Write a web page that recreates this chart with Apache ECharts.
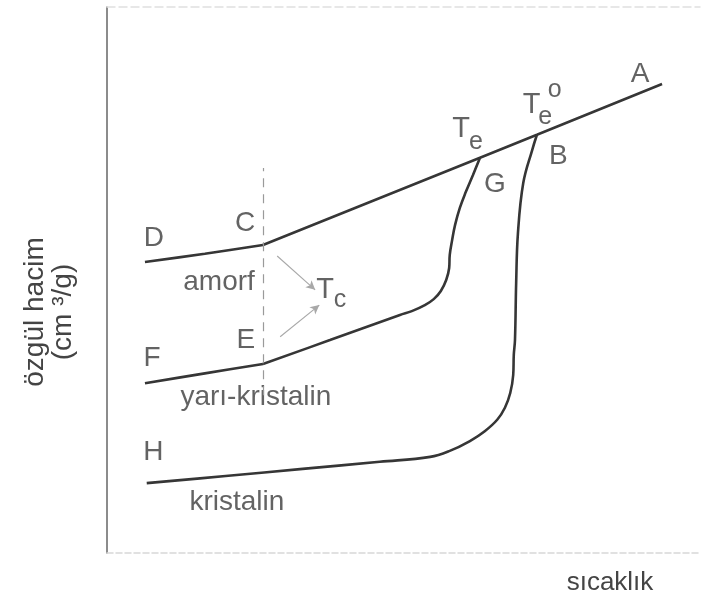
<!DOCTYPE html>
<html>
<head>
<meta charset="utf-8">
<script src="https://cdn.jsdelivr.net/npm/echarts@6/dist/echarts.min.js"></script>
<style>
  html, body { margin: 0; padding: 0; background: #fff; }
  #chart { width: 711px; height: 603px; }
</style>
</head>
<body>
<div id="chart"></div>
<script>
  // curve points (x = sıcaklık, y = özgül hacim, arbitrary units 0-100)
  const dcX = [6.4, 16.5, 26.3];
  const dcY = [53.3, 54.8, 56.4];

  const caX = [26.3, 62.9, 72.5, 93.6];
  const caY = [56.4, 72.4, 76.6, 85.9];

  const feX = [6.4, 16.5, 26.3];
  const feY = [31.1, 32.9, 34.6];

  const egX = [26.3, 37.6, 49.4, 51.4, 53.6, 55.1, 56.3, 57.2, 57.7, 57.8, 58.2, 58.7, 59.5, 60.5, 61.7, 62.9];
  const egY = [34.6, 39.0, 43.6, 44.3, 45.4, 46.5, 48.0, 50.0, 52.2, 54.6, 57.3, 60.1, 63.2, 66.1, 69.2, 72.4];

  const hbX = [6.7, 20.0, 33.0, 46.0, 54.5, 57.8, 61.2, 63.7, 65.8, 67.1, 68.0, 68.5, 68.6, 68.8, 69.0, 69.3, 70.2, 71.7, 72.5];
  const hbY = [12.8, 14.1, 15.4, 16.7, 17.6, 18.7, 20.5, 22.3, 24.4, 26.6, 29.3, 32.6, 36.3, 39.0, 49.5, 58.6, 67.8, 73.8, 76.6];

  // Tc dashed line and arrows
  const tcX = 26.3;
  const tcY = [28.9, 70.5];
  const arrowFrom = [[28.7, 54.4], [29.2, 39.6]];
  const arrowTo = [[35.1, 48.2], [35.8, 45.4]];

  // annotation labels
  const labelText = ['A', 'T', 'e', 'o', 'T', 'e', 'B', 'G', 'C', 'D', 'amorf', 'T', 'c', 'E', 'F', 'yarı-kristalin', 'H', 'kristalin'];
  const labelX = [89.9, 71.6, 73.9, 75.5, 59.7, 62.2, 76.1, 65.4, 23.3, 7.9, 18.9, 36.8, 39.3, 23.4, 7.6, 25.1, 7.8, 21.9];
  const labelY = [87.7, 82.0, 79.8, 84.8, 77.7, 75.3, 72.7, 67.6, 60.4, 57.7, 49.5, 48.2, 46.3, 39.0, 35.7, 28.6, 18.5, 9.2];
  const smallLabels = ['e', 'o', 'c'];

  const xName = 'sıcaklık';
  const yName = 'özgül hacim\n(cm ³/g)';

  const zip = (xs, ys) => xs.map((x, i) => [x, ys[i]]);

  const ink = '#363636';
  const font = 'Liberation Sans, Arial, sans-serif';

  let chart = echarts.init(document.getElementById('chart'));

  let curve = (name, xs, ys, smooth) => ({
    name: name,
    type: 'line',
    data: zip(xs, ys),
    showSymbol: false,
    smooth: smooth,
    lineStyle: { color: ink, width: 2.6 },
    silent: true
  });

  let labelData = labelText.map((t, i) => ({
    value: [labelX[i], labelY[i]],
    label: {
      show: true,
      formatter: t,
      position: 'inside',
      fontSize: smallLabels.indexOf(t) >= 0 ? 25 : (t === 'T' ? 29 : 28),
      fontFamily: font,
      color: '#3c3c3c'
    }
  }));

  let option = {
    animation: false,
    grid: { left: 107, right: 11, top: 7, bottom: 50 },
    xAxis: [
      {
        type: 'value', min: 0, max: 100,
        axisLine: { show: true, lineStyle: { color: '#d8d8d8', width: 1.5, type: [6, 3] } },
        axisTick: { show: false }, axisLabel: { show: false }, splitLine: { show: false }
      },
      {
        type: 'value', min: 0, max: 100, position: 'top',
        axisLine: { show: true, lineStyle: { color: '#e0e0e0', width: 1.5, type: [8, 4] } },
        axisTick: { show: false }, axisLabel: { show: false }, splitLine: { show: false }
      }
    ],
    yAxis: {
      type: 'value', min: 0, max: 100,
      axisLine: { show: true, lineStyle: { color: '#666', width: 1.5 } },
      axisTick: { show: false }, axisLabel: { show: false }, splitLine: { show: false }
    },
    series: [
      curve('DC', dcX, dcY, 0.3),
      curve('CA', caX, caY, false),
      curve('FE', feX, feY, 0.3),
      curve('EG', egX, egY, 0.4),
      curve('HB', hbX, hbY, 0.4),
      {
        name: 'Tc',
        type: 'line',
        data: [],
        silent: true,
        markLine: {
          silent: true,
          animation: false,
          label: { show: false },
          data: [
            [
              { coord: [tcX, tcY[0]], symbol: 'none', lineStyle: { color: '#9a9a9a', width: 1.2, type: [9, 7] } },
              { coord: [tcX, tcY[1]], symbol: 'none' }
            ],
            [
              { coord: arrowFrom[0], symbol: 'none', lineStyle: { color: '#a8a8a8', width: 1.1, type: 'solid' } },
              { coord: arrowTo[0], symbol: 'arrow', symbolSize: [7, 9] }
            ],
            [
              { coord: arrowFrom[1], symbol: 'none', lineStyle: { color: '#a8a8a8', width: 1.1, type: 'solid' } },
              { coord: arrowTo[1], symbol: 'arrow', symbolSize: [7, 9] }
            ]
          ]
        }
      },
      {
        name: 'labels',
        type: 'scatter',
        symbolSize: 0,
        silent: true,
        data: labelData
      }
    ],
    graphic: [
      {
        type: 'text',
        x: 610, y: 583,
        style: { text: xName, fontSize: 26, fontFamily: font, fill: '#444', textAlign: 'center', textVerticalAlign: 'middle' }
      },
      {
        type: 'text',
        x: 49, y: 312,
        rotation: Math.PI / 2,
        style: { text: yName, fontSize: 28, lineHeight: 28, fontFamily: font, fill: '#444', textAlign: 'center', textVerticalAlign: 'middle' }
      }
    ]
  };

  chart.setOption(option);
</script>
</body>
</html>
